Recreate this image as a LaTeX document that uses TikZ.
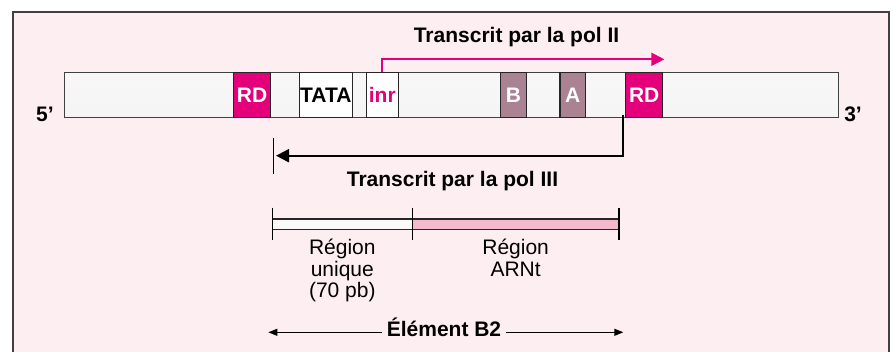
\documentclass[tikz,border=0pt]{standalone}
\usepackage{fontspec}
\setmainfont{Liberation Sans}
\usepackage{tikz}
\usetikzlibrary{arrows.meta, positioning, calc}
\definecolor{fond}{RGB}{253,238,241}
\definecolor{rdmag}{RGB}{228,0,122}
\definecolor{mauve}{RGB}{170,130,145}
\definecolor{arnrose}{RGB}{246,184,204}
\tikzstyle{dna} = [rectangle, minimum width=774pt, minimum height=45pt, inner sep=0pt, outer sep=0pt, draw=black!75, line width=1.2pt, top color=gray!6, middle color=white, bottom color=gray!8]
\tikzstyle{box} = [rectangle, minimum height=45pt, inner sep=0pt, outer sep=0pt, draw=black!85, line width=1.2pt, text centered, font=\fontsize{21}{22}\selectfont\bfseries]
\tikzstyle{rdbox} = [box, minimum width=37pt, fill=rdmag, text=white]
\tikzstyle{motif} = [box, minimum width=25.6pt, fill=mauve, text=white]
\tikzstyle{region} = [rectangle, minimum height=10.3pt, inner sep=0pt, outer sep=0pt, draw=black!85, line width=1.2pt]
\tikzstyle{arrow} = [line width=2pt, -{Triangle[length=13pt,width=13pt]}]
\tikzstyle{fleche} = [line width=1.2pt, -{Triangle[length=9pt,width=7pt]}]

\begin{document}
\begin{tikzpicture}[x=1pt, y=-1pt, font=\fontsize{21}{21.5}\selectfont]
\useasboundingbox (0,0) rectangle (893,352);
\clip (0,0) rectangle (893,352);
\draw [draw=black!75, line width=1.5pt, fill=fond] (13,12) rectangle (889,400);
% la sequence
\node (bar) [dna] at (451.3,94.8) {};
\node (rd1) [rdbox] at (252,94.8) {RD};
\node (tata) [box, minimum width=53pt, fill=white] at (325.8,94.8) {TATA};
\node (inr) [box, minimum width=32pt, fill=white, text=rdmag] at (382.3,94.8) {inr};
\node (b) [motif] at (513.5,94.8) {B};
\node (a) [motif] at (572.8,94.8) {A};
\node (rd2) [rdbox] at (644.2,94.8) {RD};
\node (p5) [anchor=base, font=\fontsize{21}{22}\selectfont\bfseries] at (45,122) {5’};
\node (p3) [anchor=base, font=\fontsize{21}{22}\selectfont\bfseries] at (853,122) {3’};
% transcrits
\node (t2) [anchor=base, font=\fontsize{21}{22}\selectfont\bfseries] at (516.5,43) {Transcrit par la pol II};
\coordinate (fin2) at (664.3,59.3);
\draw [arrow, rdmag] (inr.north) |- (fin2);
\coordinate (dep3) at ($(rd2.south west)+(-3,-2)$);
\coordinate (fin3) at (276,155.7);
\coordinate (tic3) at (273.7,156);
\draw [line width=1.3pt] ($(tic3)+(0,-18)$) -- ($(tic3)+(0,18)$);
\draw [arrow] (dep3) |- (fin3);
\node (t3) [anchor=base, font=\fontsize{21}{22}\selectfont\bfseries] at (452.5,186.7) {Transcrit par la pol III};
% regions
\node (uni) [region, minimum width=140pt, fill=white!96!gray] at (342.3,224.2) {};
\node (arn) [region, minimum width=206.7pt, fill=arnrose, anchor=west] at (uni.east) {};
\foreach \p in {uni.west, uni.east, arn.east}
  \draw [line width=1.2pt] ($(\p)+(0,-16.5)$) -- ($(\p)+(0,15.8)$);
\node (luni) [below=9.5pt of uni, align=center, inner sep=0pt] {Région\\unique\\(70 pb)};
\node (larn) [below=9.5pt of arn, align=center, inner sep=0pt] {Région\\ARNt};
% element B2
\node (elem) [anchor=base, inner sep=5pt, font=\fontsize{21}{22}\selectfont\bfseries] at (444,336.7) {Élément B2};
\coordinate (g) at (268.3,332.3);
\coordinate (d) at (623.3,332.3);
\draw [fleche] (elem.west |- g) -- (g);
\draw [fleche] (elem.east |- d) -- (d);
\end{tikzpicture}
\end{document}
